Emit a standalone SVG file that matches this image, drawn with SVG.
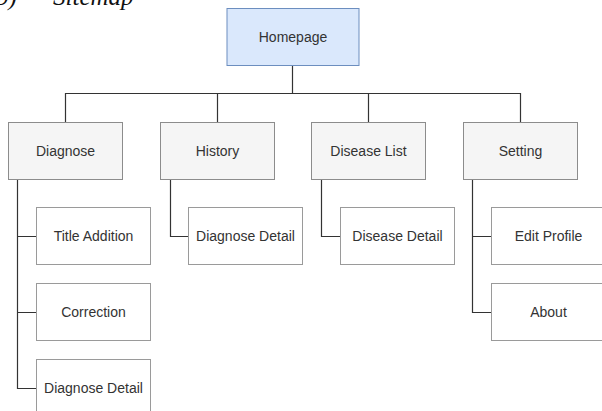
<svg xmlns="http://www.w3.org/2000/svg" width="602" height="411" viewBox="0 0 602 411">
<style>
.cap{font-family:"Liberation Serif","Times New Roman",serif;font-style:italic;font-size:25px;fill:#111}
.root{fill:#dae8fc;stroke:#6c8ebf;stroke-width:1}
.l1{fill:#f5f5f5;stroke:#8c8c8c;stroke-width:1}
.l2{fill:#ffffff;stroke:#9a9a9a;stroke-width:1}
text.t{font-family:"Liberation Sans",Arial,sans-serif;font-size:14px;fill:#333;text-anchor:middle}
.c{fill:none;stroke:#333;stroke-width:1.2}
</style>
<rect width="602" height="411" fill="#fff"/>
<text class="cap" x="-4" y="5">b)</text>
<text class="cap" x="53" y="5">Sitemap</text>
<g id="connectors">
<path class="c" d="M292.5 65.5V93.5M65.5 122.5V93.5H520.5V122.5M217.5 93.5V122.5M368.5 93.5V122.5"/>
<path class="c" d="M17.5 179.5V388.5H36.5M17.5 236.5H36.5M17.5 312.5H36.5"/>
<path class="c" d="M170.5 179.5V236.5H188.5"/>
<path class="c" d="M321.5 179.5V236.5H340.5"/>
<path class="c" d="M472.5 179.5V312.5H491.5M472.5 236.5H491.5"/>
</g>
<g id="homepage"><rect class="root" x="227" y="8.5" width="132" height="57"/><text class="t" x="293" y="42">Homepage</text></g>
<g id="diagnose"><rect class="l1" x="8.5" y="122.5" width="114" height="57"/><text class="t" x="65.5" y="156">Diagnose</text></g>
<g id="history"><rect class="l1" x="160.5" y="122.5" width="114" height="57"/><text class="t" x="217.5" y="156">History</text></g>
<g id="disease-list"><rect class="l1" x="311.5" y="122.5" width="114" height="57"/><text class="t" x="368.5" y="156">Disease List</text></g>
<g id="setting"><rect class="l1" x="463.5" y="122.5" width="114" height="57"/><text class="t" x="520.5" y="156">Setting</text></g>
<g id="title-addition"><rect class="l2" x="36.5" y="207.5" width="114" height="57"/><text class="t" x="93.5" y="241">Title Addition</text></g>
<g id="correction"><rect class="l2" x="36.5" y="283.5" width="114" height="57"/><text class="t" x="93.5" y="317">Correction</text></g>
<g id="diagnose-detail-1"><rect class="l2" x="36.5" y="359.5" width="114" height="57"/><text class="t" x="93.5" y="393">Diagnose Detail</text></g>
<g id="diagnose-detail-2"><rect class="l2" x="188.5" y="207.5" width="114" height="57"/><text class="t" x="245.5" y="241">Diagnose Detail</text></g>
<g id="disease-detail"><rect class="l2" x="340.5" y="207.5" width="114" height="57"/><text class="t" x="397.5" y="241">Disease Detail</text></g>
<g id="edit-profile"><rect class="l2" x="491.5" y="207.5" width="114" height="57"/><text class="t" x="548.5" y="241">Edit Profile</text></g>
<g id="about"><rect class="l2" x="491.5" y="283.5" width="114" height="57"/><text class="t" x="548.5" y="317">About</text></g>
</svg>
